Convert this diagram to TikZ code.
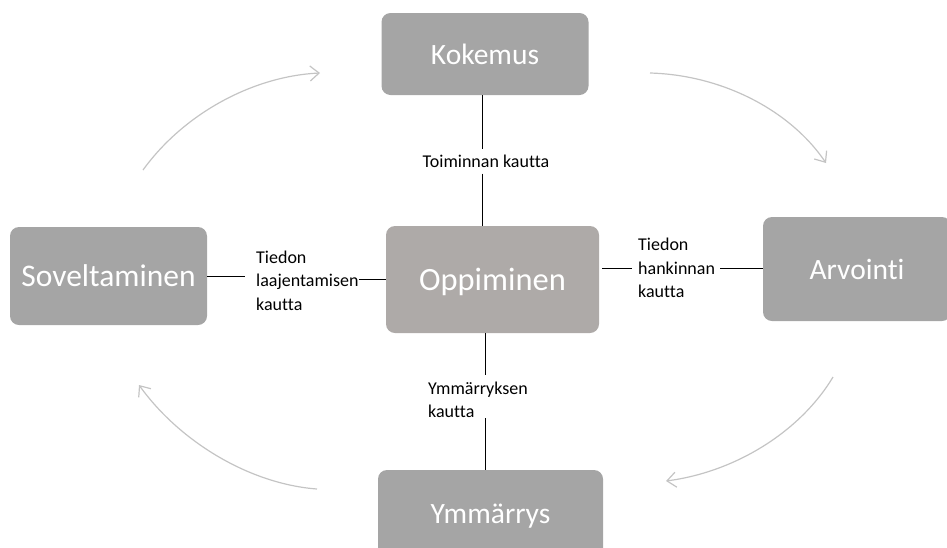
\documentclass[tikz,border=0pt]{standalone}
\usepackage{fontspec}
\setmainfont{Carlito}[Ligatures=NoCommon]
\usetikzlibrary{arrows.meta}
\definecolor{boxgray}{HTML}{A5A5A5}
\definecolor{oppgray}{HTML}{AEAAA8}
\definecolor{arrowgray}{HTML}{C4C4C4}
\begin{document}
\begin{tikzpicture}[x=1pt,y=-1pt,
  box/.style={rectangle, rounded corners=9pt, fill=boxgray, text=white,
    font=\fontsize{29.5}{35}\selectfont, inner sep=0pt, text depth=0pt},
  lab/.style={font=\fontsize{18}{23.3}\selectfont, inner sep=0pt, align=left},
  conn/.style={draw=black, line width=0.9pt},
  cyc/.style={draw=arrowgray, line width=1.2pt, -{Straight Barb[length=9pt,width=15pt]}}]
\useasboundingbox (0,0) rectangle (947,547);
\clip (0,0) rectangle (947,547);

\node[box, minimum width=207pt, minimum height=82pt] (kok) at (485,54) {Kokemus};
\node[box, fill=oppgray, font=\fontsize{32.5}{38}\selectfont, minimum width=213pt, minimum height=107pt] (opp) at (492.5,279.5) {Oppiminen};
\node[box, font=\fontsize{31.5}{37}\selectfont, minimum width=197pt, minimum height=98pt] (sov) at (108.5,276) {Soveltaminen};
\node[box, minimum width=188pt, minimum height=104pt] (arv) at (857,269) {Arvointi};
\node[box, minimum width=225pt, minimum height=88pt] (ymm) at (490.5,514) {Ymmärrys};

\node[lab] (labT) at (486,161) {Toiminnan kautta};
\node[lab, anchor=west] (labL) at (256,280.7) {Tiedon\\laajentamisen\\kautta};
\node[lab, anchor=west] (labR) at (638,268) {Tiedon\\hankinnan\\kautta};
\node[lab, anchor=west] (labB) at (428,400) {Ymmärryksen\\kautta};
\coordinate (vT) at (482,0);
\coordinate (vB) at (485,0);

\draw[conn, shorten >=5pt] (kok.south -| vT) -- (labT.north -| vT);
\draw[conn, shorten <=6pt] (labT.south -| vT) -- (opp.north -| vT);
\draw[conn, shorten >=11pt] (sov.east) -- (sov.east -| labL.west);
\draw[conn] (labL.east |- opp.west) -- (opp.west);
\draw[conn, shorten <=3pt, shorten >=6pt] (opp.east |- labR.west) -- (labR.west);
\draw[conn, shorten <=5pt] (labR.east) -- (labR.east -| arv.west);
\draw[conn, shorten >=7pt] (opp.south -| vB) -- (labB.north -| vB);
\draw[conn] (labB.south -| vB) -- (ymm.north -| vB);

\coordinate (a1s) at (143,170); \coordinate (a1e) at (320,73);
\coordinate (a2s) at (650,73);  \coordinate (a2e) at (826,163);
\coordinate (a3s) at (833,377); \coordinate (a3e) at (666,481);
\coordinate (a4s) at (317,489); \coordinate (a4e) at (139,385);
\draw[cyc] (a1s) .. controls (185,112) and (255,76) .. (a1e);
\draw[cyc] (a2s) .. controls (722,75) and (790,110) .. (a2e);
\draw[cyc] (a3s) .. controls (800,432) and (735,472) .. (a3e);
\draw[cyc] (a4s) .. controls (250,484) and (180,442) .. (a4e);
\end{tikzpicture}
\end{document}
